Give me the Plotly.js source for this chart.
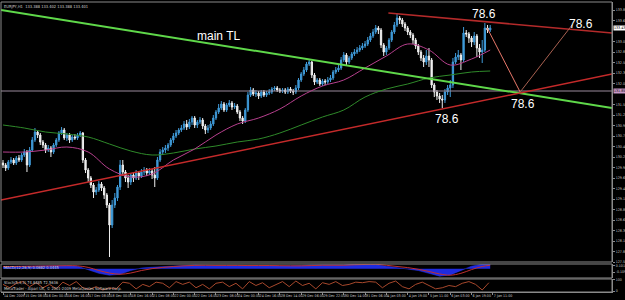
<!DOCTYPE html>
<html><head><meta charset="utf-8">
<script src="https://cdn.plot.ly/plotly-3.0.1.min.js"></script>
<style>html,body{margin:0;padding:0;background:#000;}#chart{width:625px;height:300px;}</style>
</head><body><div id="chart"></div>
<script>
// ---- price data (EURJPY H1, one candle per 2 hours) ----
const openP = [130.055,130.005,129.930,130.080,130.130,130.055,130.180,130.130,130.255,130.330,130.005,130.380,130.630,130.830,130.755,130.580,130.505,130.380,130.430,130.330,130.505,130.630,130.805,130.880,130.680,130.755,130.630,130.705,130.680,130.755,130.805,130.130,129.880,129.680,129.505,129.330,129.380,129.530,129.430,129.255,129.005,128.505,129.005,129.180,129.455,130.005,129.830,129.680,129.580,129.755,129.680,129.805,129.730,129.830,129.880,129.805,129.855,129.755,129.680,130.130,130.330,130.380,130.430,130.505,130.630,130.730,130.805,130.880,130.930,131.030,130.955,131.080,131.180,131.005,131.080,131.130,130.980,130.880,130.930,131.030,131.180,131.330,131.430,131.530,131.380,131.505,131.555,131.455,131.480,131.330,131.180,131.105,131.380,131.755,131.880,131.780,131.805,131.730,131.830,131.755,131.805,131.830,131.905,131.930,131.880,131.855,131.880,131.830,131.905,131.855,131.830,131.930,132.130,132.280,132.380,132.530,132.580,132.255,132.080,132.130,132.030,132.105,132.080,132.130,132.180,132.330,132.380,132.430,132.630,132.755,132.580,132.680,132.780,132.830,132.880,132.930,132.980,133.030,133.130,133.230,133.330,133.430,133.380,133.005,132.830,132.930,133.130,133.330,133.505,133.680,133.630,133.530,133.430,133.330,133.255,133.130,132.980,132.830,132.680,132.580,132.730,132.630,132.005,131.830,131.730,131.655,131.630,131.830,131.930,132.005,132.580,132.705,132.755,132.630,133.305,133.280,133.180,133.080,133.230,132.930,132.830,132.880,133.430,133.380];
const highP = [130.130,130.055,130.130,130.205,130.180,130.230,130.255,130.305,130.405,130.380,130.455,130.705,130.930,130.880,130.805,130.630,130.555,130.505,130.480,130.555,130.680,130.855,130.955,130.930,130.805,130.805,130.755,130.780,130.805,130.855,130.830,130.180,129.930,129.730,129.555,129.455,129.605,129.580,129.480,129.305,129.055,129.130,129.305,129.505,130.130,130.130,129.880,129.755,129.805,129.830,129.880,129.855,129.905,129.955,129.930,129.930,129.905,129.955,130.205,130.405,130.455,130.505,130.555,130.680,130.805,130.880,130.930,131.005,131.105,131.130,131.155,131.230,131.230,131.130,131.205,131.180,131.030,131.005,131.105,131.255,131.380,131.530,131.605,131.580,131.555,131.630,131.605,131.555,131.530,131.380,131.230,131.430,131.830,131.955,131.930,131.880,131.855,131.880,131.880,131.855,131.905,131.955,131.980,131.980,131.930,131.930,131.930,131.955,131.955,131.905,132.005,132.180,132.330,132.455,132.580,132.630,132.605,132.305,132.180,132.180,132.155,132.155,132.205,132.255,132.380,132.455,132.505,132.705,132.830,132.805,132.730,132.830,132.905,132.955,133.005,133.055,133.105,133.205,133.305,133.405,133.505,133.480,133.430,133.055,132.980,133.180,133.380,133.580,133.780,133.730,133.680,133.580,133.480,133.380,133.305,133.180,133.030,132.880,132.755,132.880,132.930,132.680,132.055,131.880,131.805,131.755,131.905,132.005,132.130,132.680,132.805,132.880,132.805,133.455,133.380,133.330,133.230,133.330,133.280,133.030,133.130,133.555,133.505,133.505];
const lowP = [129.930,129.855,129.880,130.030,130.005,130.005,130.080,130.080,130.205,129.830,129.955,130.330,130.580,130.680,130.505,130.430,130.305,130.330,130.205,130.280,130.455,130.580,130.755,130.630,130.605,130.555,130.580,130.630,130.630,130.705,130.055,129.805,129.580,129.430,129.180,129.255,129.330,129.355,129.155,128.930,127.705,128.430,128.930,129.105,129.380,129.730,129.580,129.430,129.505,129.580,129.630,129.630,129.680,129.755,129.730,129.755,129.655,129.455,129.630,130.080,130.255,130.305,130.355,130.455,130.555,130.680,130.755,130.830,130.880,130.880,130.905,131.005,130.930,130.930,131.030,130.905,130.780,130.805,130.880,130.980,131.130,131.280,131.380,131.330,131.330,131.455,131.380,131.405,131.280,131.105,131.030,131.055,131.330,131.705,131.730,131.705,131.655,131.680,131.705,131.705,131.755,131.780,131.855,131.830,131.805,131.805,131.780,131.780,131.805,131.755,131.780,131.880,132.080,132.230,132.330,132.480,132.180,132.005,132.030,131.980,131.980,132.005,132.030,132.080,132.130,132.280,132.330,132.380,132.580,132.505,132.530,132.630,132.730,132.780,132.830,132.880,132.930,132.980,133.080,133.180,133.280,133.280,132.930,132.730,132.755,132.880,133.080,133.280,133.455,133.530,133.455,133.355,133.255,133.180,133.030,132.905,132.755,132.605,132.455,132.505,132.455,131.930,131.705,131.630,131.555,131.430,131.555,131.755,131.705,131.930,132.530,132.630,132.380,132.580,133.205,133.055,132.955,133.005,132.705,132.680,132.555,132.830,133.305,133.330];
const closeP = [130.005,129.930,130.080,130.130,130.055,130.180,130.130,130.255,130.330,130.005,130.380,130.630,130.830,130.755,130.580,130.505,130.380,130.430,130.330,130.505,130.630,130.805,130.880,130.680,130.755,130.630,130.705,130.680,130.755,130.805,130.130,129.880,129.680,129.505,129.330,129.380,129.530,129.430,129.255,129.005,128.505,129.005,129.180,129.455,130.005,129.830,129.680,129.580,129.755,129.680,129.805,129.730,129.830,129.880,129.805,129.855,129.755,129.680,130.130,130.330,130.380,130.430,130.505,130.630,130.730,130.805,130.880,130.930,131.030,130.955,131.080,131.180,131.005,131.080,131.130,130.980,130.880,130.930,131.030,131.180,131.330,131.430,131.530,131.380,131.505,131.555,131.455,131.480,131.330,131.180,131.105,131.380,131.755,131.880,131.780,131.805,131.730,131.830,131.755,131.805,131.830,131.905,131.930,131.880,131.855,131.880,131.830,131.905,131.855,131.830,131.930,132.130,132.280,132.380,132.530,132.580,132.255,132.080,132.130,132.030,132.105,132.080,132.130,132.180,132.330,132.380,132.430,132.630,132.755,132.580,132.680,132.780,132.830,132.880,132.930,132.980,133.030,133.130,133.230,133.330,133.430,133.380,133.005,132.830,132.930,133.130,133.330,133.505,133.680,133.630,133.530,133.430,133.330,133.255,133.130,132.980,132.830,132.680,132.580,132.730,132.630,132.005,131.830,131.730,131.655,131.630,131.830,131.930,132.005,132.580,132.705,132.755,132.630,133.305,133.280,133.180,133.080,133.230,132.930,132.830,132.880,133.430,133.380,133.430];

// moving averages, sampled every 16 hours
const maHours = [0,16,32,48,64,80,96,112,128,144,160,176,192,208,224,240,256,272,288,304,320,336,352,366];
const pinkMA  = [130.33,130.33,130.38,130.455,130.33,129.905,129.705,129.78,130.13,130.405,130.755,131.03,131.18,131.405,131.73,131.98,132.13,132.43,132.73,133.03,132.88,132.505,132.655,132.88];
const greenMA = [131.005,130.93,130.83,130.78,130.705,130.53,130.355,130.255,130.305,130.405,130.48,130.58,130.655,130.805,131.005,131.205,131.38,131.705,131.905,132.03,132.18,132.255,132.33,132.355];

// drawn trend lines (hour index, price)
const mainTLx = [-1.5, 457.5],  mainTLy = [133.88, 131.43];
const lowTLx  = [-1.5, 457.5],  lowTLy  = [129.13, 132.28];
const upTLx   = [289.5, 457.5], upTLy   = [133.805, 133.305];
const hLineX  = [-1.5, 457.5],  hLineY  = [131.855, 131.855];
const legDownX = [363.75, 388.5], legDownY = [133.43, 131.83];
const legUpX   = [388.5, 427.5],  legUpY   = [131.83, 133.505];
const fibLabels = [{h:361.5,p:133.78},{h:333.75,p:131.155},{h:390.75,p:131.53},{h:434.25,p:133.53}];

// MACD(12,26,9)
const macdHours = [0,8,16,24,32,40,48,56,64,72,80,88,96,104,112,120,128,136,144,152,160,168,176,184,192,200,208,216,224,232,240,248,256,264,272,280,288,296,304,312,320,328,336,344,352,360,366];
const macdMain = [0.07,0.075,0.09,0.09,0.1,0.1,0.1,0.08,-0.03,-0.15,-0.21,-0.18,-0.06,0.02,0.045,0.065,0.1,0.115,0.12,0.1,0.1,0.115,0.1,0.1,0.115,0.1,0.085,0.085,0.1,0.12,0.12,0.1,0.12,0.14,0.145,0.13,0.08,0.04,0.0,-0.06,-0.15,-0.24,-0.2,-0.06,0.08,0.14,0.14];
const macdSignal = [0.07,0.07,0.075,0.08,0.085,0.09,0.095,0.09,0.04,-0.06,-0.14,-0.18,-0.14,-0.06,0.0,0.04,0.07,0.09,0.105,0.11,0.105,0.105,0.105,0.1,0.1,0.1,0.095,0.09,0.09,0.1,0.11,0.11,0.11,0.125,0.135,0.14,0.11,0.07,0.035,-0.02,-0.09,-0.17,-0.21,-0.15,-0.03,0.07,0.11];

// Stochastic(5,3,3), sampled every 5 hours
const stochMain = [60,30,70,85,40,75,30,60,20,80,50,85,30,15,40,10,30,20,80,70,20,60,40,80,70,30,85,60,80,30,60,20,70,80,40,70,20,85,50,75,30,60,85,40,90,50,70,20,75,60,85,50,60,80,75,85,80,30,70,90,40,20,60,80,50,20,30,50,40,70,85,60,10,75];

// axis labels
const timeTicks = [0,16,32,48,64,80,96,112,128,144,160,176,192,208,224,240,256,272,288,304,320,336,352,368];
const timeLabels = ["14 Dec 2009","15 Dec 08:00","16 Dec 00:00","16 Dec 16:00","17 Dec 08:00","18 Dec 00:00","18 Dec 16:00","21 Dec 08:00","22 Dec 00:00","22 Dec 16:00","23 Dec 08:00","24 Dec 00:00","24 Dec 16:00","28 Dec 14:00","29 Dec 06:00","29 Dec 22:00","30 Dec 14:00","31 Dec 06:00","4 Jan 03:00","4 Jan 19:00","5 Jan 11:00","6 Jan 03:00","6 Jan 19:00","7 Jan 11:00"];
const priceTicks = [133.880,133.618,133.093,132.830,132.568,132.305,132.043,131.518,131.255,130.993,130.730,130.468,130.205,129.943,129.680,129.418,129.155,128.893,128.630,128.368,128.105,127.843,127.580];

const candleHours = openP.map((_, i) => 2 * i);
const stochHours = stochMain.map((_, i) => 5 * i);

const traces = [
  {type:'scatter', mode:'lines', x:hLineX, y:hLineY, line:{color:'#9a8a9c', width:1}},
  {type:'scatter', mode:'lines', x:maHours, y:greenMA, line:{color:'#2f8a2a', width:1, shape:'spline'}},
  {type:'scatter', mode:'lines', x:maHours, y:pinkMA, line:{color:'#b8408f', width:1, shape:'spline'}},
  {type:'candlestick', x:candleHours, open:openP, high:highP, low:lowP, close:closeP,
   increasing:{line:{color:'#3f9ad8', width:1}, fillcolor:'#3f9ad8'},
   decreasing:{line:{color:'#f0f0f0', width:1}, fillcolor:'#f0f0f0'}, whiskerwidth:0},
  {type:'scatter', mode:'lines', x:mainTLx, y:mainTLy, line:{color:'#5fd84a', width:2}},
  {type:'scatter', mode:'lines', x:lowTLx, y:lowTLy, line:{color:'#c42a2a', width:1.5}},
  {type:'scatter', mode:'lines', x:upTLx, y:upTLy, line:{color:'#b42a2a', width:1.5}},
  {type:'scatter', mode:'lines', x:legDownX, y:legDownY, line:{color:'#e8786a', width:1}},
  {type:'scatter', mode:'lines', x:legUpX, y:legUpY, line:{color:'#a86050', width:1}},
  {type:'scatter', mode:'lines', x:macdHours, y:macdMain, yaxis:'y2', fill:'tozeroy', fillcolor:'#1f2be0', line:{color:'#2a36f0', width:0.5}},
  {type:'scatter', mode:'lines', x:macdHours, y:macdSignal, yaxis:'y2', line:{color:'#c03030', width:1, shape:'spline'}},
  {type:'scatter', mode:'lines', x:stochHours, y:stochMain, yaxis:'y3', line:{color:'#a8482c', width:1}}
];

const tickFont = {family:'DejaVu Sans Condensed, DejaVu Sans, sans-serif', size:3.6, color:'#c8c8c8'};
const smallFont = {family:'DejaVu Sans Condensed, DejaVu Sans', size:4, color:'#d0d0d0'};
const annotations = fibLabels.map(f => ({x:f.h, y:f.p, xref:'x', yref:'y', text:'78.6', showarrow:false,
  font:{family:'Liberation Sans, Arial, sans-serif', size:12, color:'#ffffff'}}));
annotations.push({x:162, y:133.23, xref:'x', yref:'y', text:'main TL', showarrow:false,
  font:{family:'Liberation Sans, Arial, sans-serif', size:12, color:'#ffffff'}});
annotations.push({x:0.004, y:0.998, xref:'paper', yref:'paper', xanchor:'left', yanchor:'top', showarrow:false, borderpad:0,
  text:'EURJPY,H1  133.388 133.402 133.388 133.401', font:smallFont});
annotations.push({x:0.004, y:0.0966, xref:'paper', yref:'paper', xanchor:'left', yanchor:'top', showarrow:false, borderpad:0,
  text:'MACD(12,26,9) 0.0682 0.0445', font:smallFont});
annotations.push({x:0.004, y:0.0448, xref:'paper', yref:'paper', xanchor:'left', yanchor:'top', showarrow:false, borderpad:0,
  text:'Stoch(5,3,3) 74.8485 72.5636', font:smallFont});
annotations.push({x:0.004, y:0.0, xref:'paper', yref:'paper', xanchor:'left', yanchor:'bottom', showarrow:false, borderpad:0,
  text:'MetaTrader - Alpari UK, © 2001-2009 MetaQuotes Software Corp.', font:smallFont});
annotations.push({x:1, y:closeP[closeP.length-1], xref:'paper', yref:'y', xanchor:'left', showarrow:false, xshift:1,
  text:closeP[closeP.length-1].toFixed(3), bgcolor:'#ffffff', font:{family:'DejaVu Sans Condensed', size:3.6, color:'#000000'}, borderpad:0});
annotations.push({x:1, y:hLineY[0], xref:'paper', yref:'y', xanchor:'left', showarrow:false, xshift:1,
  text:hLineY[0].toFixed(3), bgcolor:'#c89ac8', font:{family:'DejaVu Sans Condensed', size:3.6, color:'#000000'}, borderpad:0});

const grey = '#8a8a8a';
const layout = {
  width:625, height:300, paper_bgcolor:'#000000', plot_bgcolor:'#000000',
  margin:{l:1, r:13, t:2, b:8}, showlegend:false,
  xaxis:{range:[-1.5,457.5], anchor:'y3', showgrid:false, zeroline:false, rangeslider:{visible:false},
    tickvals:timeTicks, ticktext:timeLabels, tickfont:tickFont, tickangle:0, ticks:'outside', ticklen:2, tickcolor:grey,
    ticklabelposition:'outside right', showline:true, linecolor:grey, linewidth:1},
  yaxis:{domain:[0.1034,1], range:[127.58,134.08], side:'right', anchor:'x', showgrid:false, zeroline:false,
    tickvals:priceTicks, ticktext:priceTicks.map(v=>v.toFixed(3)), tickfont:tickFont, ticks:'outside', ticklen:2, tickcolor:grey,
    showline:true, linecolor:grey, linewidth:1},
  yaxis2:{domain:[0.0483,0.0966], range:[-0.3,0.15], side:'right', anchor:'x', showgrid:false, zeroline:false,
    tickvals:[0.1019,-0.1094], ticktext:['0.1019','-0.1094'], tickfont:tickFont, ticks:'outside', ticklen:2, tickcolor:grey,
    showline:true, linecolor:grey, linewidth:1},
  yaxis3:{domain:[0,0.0448], range:[-8,108], side:'right', anchor:'x', showgrid:false, zeroline:false,
    tickvals:[100,0], ticktext:['100','0'], tickfont:tickFont, ticks:'outside', ticklen:2, tickcolor:grey,
    showline:true, linecolor:grey, linewidth:1},
  shapes:[
    {type:'rect', xref:'paper', yref:'paper', x0:0, x1:1, y0:0.1034, y1:1, line:{color:grey, width:1}},
    {type:'rect', xref:'paper', yref:'paper', x0:0, x1:1, y0:0.0483, y1:0.0966, line:{color:grey, width:1}},
    {type:'rect', xref:'paper', yref:'paper', x0:0, x1:1, y0:0, y1:0.0448, line:{color:grey, width:1}}
  ],
  annotations:annotations
};
Plotly.newPlot('chart', traces, layout, {staticPlot:true, displayModeBar:false});
</script></body></html>
